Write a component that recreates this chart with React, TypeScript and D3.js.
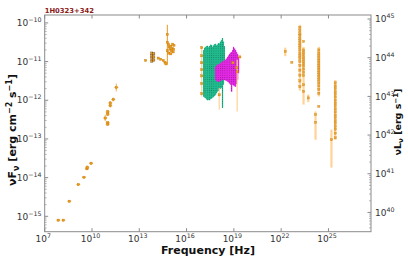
import React from 'react';
import * as d3 from 'd3';

// all values are log10 (frequency in Hz, flux in erg cm^-2 s^-1)
const radioPts = [
  [7.86, -15.1], [8.18, -15.1], [8.56, -14.61], [9.13, -14.18], [9.49, -13.99],
  [9.68, -13.77], [9.7, -13.73], [9.94, -13.63], [10.84, -12.46], [11.0, -12.3],
  [11.0, -12.36], [11.0, -12.58], [11.0, -12.62], [11.16, -12.07], [11.16, -12.14],
  [11.35, -11.98], [11.54, -11.67]
];
const radioErr = [0.03, 0.03, 0.03, 0.03, 0.03, 0.04, 0.04, 0.04, 0.08, 0.05, 0.05, 0.04, 0.04, 0.05, 0.05, 0.05, 0.1];

const optPts = [
  [13.4, -10.97], [13.8, -10.78], [13.8, -10.85], [13.8, -10.92], [13.8, -10.99],
  [13.92, -10.8], [13.92, -10.88], [13.92, -10.96], [14.2, -10.91], [14.36, -10.94],
  [14.52, -10.97], [14.63, -11.02], [14.69, -11.06], [14.78, -10.3], [14.78, -10.5],
  [14.78, -10.72], [14.85, -10.55], [14.9, -10.62], [14.95, -10.68], [15.0, -10.6],
  [15.05, -10.72], [15.1, -10.66], [15.15, -10.75], [15.2, -10.58], [14.88, -10.78],
  [15.0, -10.8], [15.12, -10.55], [15.18, -10.68]
];
const optErrBars = [[14.78, -10.05, -11.08]];

const xrtPts = [
  [16.96, -10.64], [16.96, -10.85], [16.96, -11.03], [16.96, -11.21], [16.96, -11.37],
  [16.96, -11.57], [16.96, -11.83], [18.07, -11.86], [19.21, -11.26], [19.38, -10.88],
  [19.18, -11.16], [18.94, -11.03]
];
const xrtErrBars = [[18.07, -11.68, -12.24], [19.21, -10.95, -12.29], [16.96, -10.6, -11.9]];

// dense X-ray spectra, one entry per frequency bin: [logNu, top, bottom]
const greenBins = [
  [17.04, -10.7, -11.91], [17.1, -10.64, -11.93], [17.17, -10.62, -11.95], [17.23, -10.6, -11.98],
  [17.29, -10.59, -12.0], [17.36, -10.63, -11.99], [17.42, -10.6, -12.0], [17.48, -10.56, -11.97],
  [17.54, -10.57, -11.96], [17.61, -10.62, -11.93], [17.67, -10.58, -11.92], [17.73, -10.55, -11.89],
  [17.8, -10.54, -11.86], [17.86, -10.58, -11.82], [17.92, -10.56, -11.78], [17.98, -10.52, -11.76],
  [18.05, -10.53, -11.73], [18.11, -10.48, -11.7], [18.18, -10.44, -11.68], [18.24, -10.39, -12.2],
  [18.3, -10.48, -11.6], [18.36, -10.6, -11.47]
];
const magentaBins = [
  [17.8, -11.13, -11.47], [17.86, -11.1, -11.5], [17.92, -11.08, -11.52], [17.98, -11.07, -11.53],
  [18.05, -11.06, -11.52], [18.11, -11.04, -11.5], [18.18, -11.01, -11.49], [18.24, -11.0, -11.48],
  [18.3, -10.98, -11.47], [18.37, -10.97, -11.48], [18.43, -10.95, -11.49], [18.49, -10.92, -11.5],
  [18.56, -10.88, -11.52], [18.62, -10.84, -11.54], [18.69, -10.8, -11.57], [18.75, -10.77, -11.6],
  [18.81, -10.75, -11.78], [18.88, -10.7, -11.6], [18.94, -10.62, -11.62], [19.0, -10.66, -11.64],
  [19.07, -10.7, -11.65], [19.13, -10.75, -11.58], [19.19, -10.8, -11.47], [19.26, -10.88, -11.3]
];

// gamma-ray columns: [logNu, fluxes...]
const gammaCols = [
  [23.19, -10.12, -10.2, -10.28, -10.33, -10.4, -10.46, -10.52, -10.58, -10.63, -10.7, -10.78, -10.85, -10.92, -11.0, -11.1, -11.22, -11.35, -11.5, -11.65],
  [23.42, -10.48, -10.7, -10.76, -10.82, -10.88, -10.94, -11.0, -11.06, -11.12, -11.2, -11.28, -11.36, -11.6, -11.77],
  [24.39, -10.7, -10.78, -10.85, -10.92, -10.98, -11.04, -11.1, -11.16, -11.22, -11.28, -11.34, -11.4, -11.47, -11.55, -11.63, -11.72, -11.82, -12.16],
  [25.43, -11.55, -11.63, -11.7, -11.78, -11.85, -11.92, -12.0, -12.07, -12.14, -12.22, -12.3, -12.38, -12.45, -12.53, -12.6, -12.68, -12.75, -12.85, -12.97]
];
const gammaColErr = [[23.19, -10.05, -11.75], [23.42, -10.62, -12.11], [24.39, -10.62, -11.9], [25.43, -11.48, -13.02]];
const gammaPts = [[22.26, -10.74], [22.68, -11.02], [23.72, -11.94], [24.18, -12.37], [24.18, -12.57], [25.19, -13.02]];
const gammaErrBars = [[22.26, -10.64, -10.86], [23.72, -11.85, -12.05], [24.18, -12.29, -13.02], [25.19, -12.76, -13.74]];

const xTicks = [7, 10, 13, 16, 19, 22, 25];
const yTicks = [-10, -11, -12, -13, -14, -15];
const yRTicks = [45, 44, 43, 42, 41, 40];
const lumOffset = 54.9;

const W = 408, H = 262;
const left = 44.7, right = 371, top = 15, bottom = 231.7;
const ORANGE = '#ec9a1e';
const ORANGE_LIGHT = '#ffd296';
const AXIS = '#8a8a8a';
const FONT = 'DejaVu Sans, sans-serif';

const p10 = (v: number) => Math.pow(10, v);

export default function App() {
  const x = d3.scaleLog().domain([1e7, 5e27]).range([left, right]);
  const y = d3.scaleLog().domain([4e-16, 1.6e-10]).range([bottom, top]);
  const yR = d3.scaleLog().domain([p10(Math.log10(4e-16) + lumOffset), p10(Math.log10(1.6e-10) + lumOffset)]).range([bottom, top]);
  const X = (v: number) => x(p10(v));
  const Y = (v: number) => y(p10(v));

  const minorL: number[] = [];
  for (let d = -16; d <= -10; d++) for (let m = 2; m <= 9; m++) {
    const v = m * p10(d);
    if (v > 4e-16 && v < 1.6e-10) minorL.push(y(v));
  }
  const minorR: number[] = [];
  for (let d = 39; d <= 45; d++) for (let m = 2; m <= 9; m++) {
    const v = m * p10(d);
    if (v > yR.domain()[0] && v < yR.domain()[1]) minorR.push(yR(v));
  }

  const marker = (px: number, py: number, k: string, stroke = '#c47a08') => (
    <rect key={k} x={px - 1.1} y={py - 1.1} width={2.2} height={2.2} fill={ORANGE} stroke={stroke} strokeWidth={0.35} />
  );

  const binW = (a: number[], i: number, arr: number[][]) => {
    const next = i < arr.length - 1 ? arr[i + 1][0] : a[0] + 0.06;
    return Math.max(1, X(next) - X(a[0]) + 0.3);
  };

  return (
    <svg width={W} height={H} style={{ position: 'absolute', left: 0, top: 0, fontFamily: FONT }}>
      <defs>
        <pattern id="gtex" width="2.2" height="2.2" patternUnits="userSpaceOnUse">
          <rect width="2.2" height="2.2" fill="#22bb8e" />
          <rect width="0.9" height="0.9" fill="#0b5e45" opacity="0.6" />
        </pattern>
        <pattern id="mtex" width="2.2" height="2.2" patternUnits="userSpaceOnUse">
          <rect width="2.2" height="2.2" fill="#e428e4" />
          <rect width="0.9" height="0.9" fill="#6a0a6a" opacity="0.6" />
        </pattern>
      </defs>
      <rect width={W} height={H} fill="#fff" />

      {/* title */}
      <text x={left} y={12.5} fontSize={6.8} fontWeight="bold" fill="#8b1a1a">1H0323+342</text>

      {/* frame */}
      <rect x={left} y={top} width={right - left} height={bottom - top} fill="none" stroke={AXIS} strokeWidth={1} />

      {/* x ticks */}
      {xTicks.map(t => (
        <g key={'xt' + t}>
          <line x1={X(t)} x2={X(t)} y1={bottom} y2={bottom - 3.5} stroke={AXIS} />
          <line x1={X(t)} x2={X(t)} y1={top} y2={top + 3.5} stroke={AXIS} />
          <text x={X(t) - 1.5} y={242} fontSize={9} fill="#333" textAnchor="middle">
            10<tspan dy={-4} fontSize={6.3}>{t}</tspan>
          </text>
        </g>
      ))}

      {/* left y ticks */}
      {minorL.map((v, i) => <line key={'ml' + i} x1={left} x2={left + 2} y1={v} y2={v} stroke={AXIS} strokeWidth={0.6} />)}
      {yTicks.map(t => (
        <g key={'yt' + t}>
          <line x1={left} x2={left + 3.5} y1={Y(t)} y2={Y(t)} stroke={AXIS} />
          <text x={41.5} y={Y(t) + 3.2} fontSize={9} fill="#333" textAnchor="end">
            10<tspan dy={-4} fontSize={6.3}>{'\u2212' + Math.abs(t)}</tspan>
          </text>
        </g>
      ))}

      {/* right y ticks */}
      {minorR.map((v, i) => <line key={'mr' + i} x1={right} x2={right - 2} y1={v} y2={v} stroke={AXIS} strokeWidth={0.6} />)}
      {yRTicks.map(t => (
        <g key={'yr' + t}>
          <line x1={right} x2={right - 3.5} y1={yR(p10(t))} y2={yR(p10(t))} stroke={AXIS} />
          <text x={375} y={yR(p10(t)) + 3.2} fontSize={9} fill="#333">
            10<tspan dy={-4} fontSize={6.3}>{t}</tspan>
          </text>
        </g>
      ))}

      {/* axis labels */}
      <text x={208} y={253.5} fontSize={11} fontWeight="bold" textAnchor="middle" fill="#111">Frequency [Hz]</text>
      <text transform="translate(16,130) rotate(-90)" fontSize={11} fontWeight="bold" textAnchor="middle" fill="#111">
        νF<tspan dy={2.5} fontSize={8}>ν</tspan><tspan dy={-2.5}> [erg cm</tspan><tspan dy={-4} fontSize={8}>−2</tspan><tspan dy={4}> s</tspan><tspan dy={-4} fontSize={8}>−1</tspan><tspan dy={4}>]</tspan>
      </text>
      <text transform="translate(401,122) rotate(-90)" fontSize={9.5} fontWeight="bold" textAnchor="middle" fill="#111">
        νL<tspan dy={2} fontSize={7}>ν</tspan><tspan dy={-2}> [erg s</tspan><tspan dy={-3.5} fontSize={7}>−1</tspan><tspan dy={3.5}>]</tspan>
      </text>

      {/* radio */}
      {radioPts.map((p, i) => (
        <g key={'r' + i}>
          <line x1={X(p[0])} x2={X(p[0])} y1={Y(p[1] + radioErr[i])} y2={Y(p[1] - radioErr[i])} stroke={ORANGE} strokeWidth={0.8} />
          <line x1={X(p[0]) - 2} x2={X(p[0]) + 2} y1={Y(p[1])} y2={Y(p[1])} stroke={ORANGE} strokeWidth={0.8} />
          {marker(X(p[0]), Y(p[1]), 'rm' + i)}
        </g>
      ))}

      {/* optical / IR */}
      {optErrBars.map((e, i) => (
        <line key={'oe' + i} x1={X(e[0])} x2={X(e[0])} y1={Y(e[1])} y2={Y(e[2])} stroke={ORANGE} strokeWidth={1} />
      ))}
      {optPts.map((p, i) => marker(X(p[0]), Y(p[1]), 'o' + i, p[0] < 14 && p[0] > 13.5 ? '#5a3a10' : '#c47a08'))}

      {/* X-ray spectra */}
      {greenBins.map((b, i, arr) => (
        <rect key={'g' + i} x={X(b[0])} y={Y(b[1])} width={binW(b, i, arr)} height={Y(b[2]) - Y(b[1])} fill="url(#gtex)" />
      ))}
      {magentaBins.map((b, i, arr) => (
        <rect key={'m' + i} x={X(b[0])} y={Y(b[1])} width={binW(b, i, arr)} height={Y(b[2]) - Y(b[1])} fill="url(#mtex)" />
      ))}
      {xrtErrBars.map((e, i) => (
        <line key={'xe' + i} x1={X(e[0])} x2={X(e[0])} y1={Y(e[1])} y2={Y(e[2])} stroke={ORANGE_LIGHT} strokeWidth={1.2} />
      ))}
      {xrtPts.map((p, i) => marker(X(p[0]), Y(p[1]), 'x' + i))}

      {/* gamma rays */}
      {gammaColErr.map((e, i) => (
        <line key={'ce' + i} x1={X(e[0])} x2={X(e[0])} y1={Y(e[1])} y2={Y(e[2])} stroke={ORANGE_LIGHT} strokeWidth={2.2} />
      ))}
      {gammaErrBars.map((e, i) => (
        <line key={'ge' + i} x1={X(e[0])} x2={X(e[0])} y1={Y(e[1])} y2={Y(e[2])} stroke={ORANGE_LIGHT} strokeWidth={2.2} />
      ))}
      <g opacity={0.85}>
        {gammaCols.map((c, i) => c.slice(1).map((v, j) => marker(X(c[0]), Y(v), 'gc' + i + '-' + j)))}
        {gammaPts.map((p, i) => marker(X(p[0]), Y(p[1]), 'gp' + i))}
      </g>
    </svg>
  );
}
